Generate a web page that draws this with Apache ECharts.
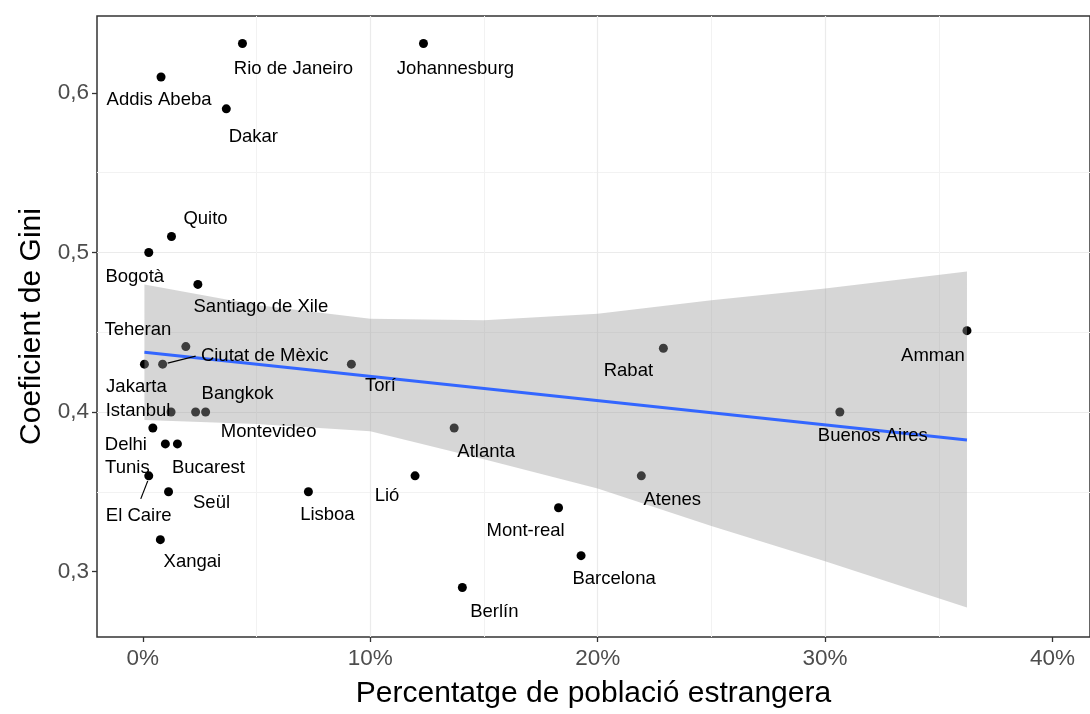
<!DOCTYPE html>
<html>
<head>
<meta charset="utf-8">
<script src="https://cdn.jsdelivr.net/npm/echarts@6/dist/echarts.min.js"></script>
<style>
html,body{margin:0;padding:0;background:#fff;}
#c{width:1090px;height:714px;}
</style>
</head>
<body>
<div id="c"></div>
<script>
// ---- data ----
const cities = ["Rio de Janeiro","Johannesburg","Addis Abeba","Dakar","Quito","Bogotà","Santiago de Xile","Teheran","Jakarta","Ciutat de Mèxic","Istanbul","Bangkok","Montevideo","Delhi","Tunis","Bucarest","El Caire","Seül","Lisboa","Xangai","Torí","Rabat","Atlanta","Lió","Atenes","Mont-real","Barcelona","Berlín","Buenos Aires","Amman"];
const pctForeign = [4.38,12.34,0.80,3.67,1.26,0.26,2.42,1.89,0.07,0.87,1.24,2.32,2.76,0.44,0.99,1.52,0.26,1.13,7.28,0.77,9.17,22.89,13.69,11.97,21.92,18.28,19.27,14.05,30.65,36.24];
const gini = [0.631,0.631,0.610,0.590,0.510,0.500,0.480,0.441,0.430,0.430,0.400,0.400,0.400,0.390,0.380,0.380,0.360,0.350,0.350,0.320,0.430,0.440,0.390,0.360,0.360,0.340,0.310,0.290,0.400,0.451];
// smoother (linear fit) and its confidence band
const fitX = [0.07, 36.24];
const fitY = [0.4375, 0.3825];
const bandX = [0.07, 5, 10, 15, 20, 25, 30, 36.24];
const bandUpper = [0.480, 0.467, 0.4585, 0.4575, 0.4616, 0.470, 0.4774, 0.488];
const bandLower = [0.395, 0.3925, 0.388, 0.3704, 0.352, 0.3285, 0.3065, 0.2775];
const xTicks = [0, 10, 20, 30, 40];
const yTicks = [0.3, 0.4, 0.5, 0.6];

// ---- label layout (pixel offsets of label centre from its point) ----
const labelOffsets = [[51,25],[32,25],[-2,23],[27,28],[34,-18],[-14,24],[63,23],[-48,-17],[-8,23],[102,-8],[-33,-1],[42,-18],[63,20],[-27,17],[-38,24],[31,24],[-10,40],[43,11],[19,23],[32,22],[29,22],[-35,23],[32,24],[-28,20],[31,24],[-33,23],[33,23],[32,24],[33,24],[-34,25]];
const leaders = {"Ciutat de Mèxic":[5,-1,33,-8], "El Caire":[-1,5,-8,23]};

const FONT = "'Liberation Sans', Arial, sans-serif";
const chart = echarts.init(document.getElementById('c'));

const pts = pctForeign.map((x,i)=>[x, gini[i]]);
const fit = fitX.map((x,i)=>[x, fitY[i]]);
const band = bandX.map((x,i)=>[x, bandLower[i], bandUpper[i]]);

chart.setOption({
  animation:false,
  backgroundColor:'#fff',
  grid:{left:97, right:-10, top:16, bottom:76, show:true, borderColor:'#333', borderWidth:1.5, backgroundColor:'transparent'},
  xAxis:{
    type:'value', min:-2.016, max:41.65, minInterval:10, maxInterval:10,
    name:'Percentatge de població estrangera', nameLocation:'middle', nameGap:42,
    nameTextStyle:{fontFamily:FONT, fontSize:30, color:'#000'},
    axisLine:{show:false, onZero:false},
    axisTick:{show:true, length:5, lineStyle:{color:'#333', width:1.3}, customValues:xTicks},
    axisLabel:{fontFamily:FONT, fontSize:22.5, color:'#4d4d4d', margin:10, customValues:xTicks,
      formatter:v=>Math.round(v)+'%'},
    splitLine:{show:true, showMinLine:false, showMaxLine:false, lineStyle:{color:'#ebebeb', width:1.2}},
    minorTick:{show:false, splitNumber:2},
    minorSplitLine:{show:true, lineStyle:{color:'#f2f2f2', width:1}}
  },
  yAxis:{
    type:'value', min:0.259, max:0.6482, minInterval:0.1, maxInterval:0.1,
    name:'Coeficient de Gini', nameLocation:'middle', nameGap:48, nameRotate:90,
    nameTextStyle:{fontFamily:FONT, fontSize:30, color:'#000'},
    axisLine:{show:false, onZero:false},
    axisTick:{show:true, length:5, lineStyle:{color:'#333', width:1.3}, customValues:yTicks},
    axisLabel:{fontFamily:FONT, fontSize:22.5, color:'#4d4d4d', margin:8, customValues:yTicks,
      formatter:v=>v.toFixed(1).replace('.',',')},
    splitLine:{show:true, showMinLine:false, showMaxLine:false, lineStyle:{color:'#ebebeb', width:1.2}},
    minorTick:{show:false, splitNumber:2},
    minorSplitLine:{show:true, lineStyle:{color:'#f2f2f2', width:1}}
  },
  series:[
    {type:'scatter', data:pts, symbol:'circle', symbolSize:9, itemStyle:{color:'#000', opacity:1}, z:2, silent:true},
    {type:'custom', data:band, z:3, silent:true, clip:true,
      renderItem:(params, api)=>{
        if (params.dataIndex !== 0) return null;
        const up = band.map(d=>api.coord([d[0], d[2]]));
        const lo = band.map(d=>api.coord([d[0], d[1]])).reverse();
        return {type:'polygon', shape:{points:up.concat(lo)}, style:{fill:'rgba(153,153,153,0.4)'}};
      }},
    {type:'line', data:fit, showSymbol:false, lineStyle:{color:'#3366FF', width:3}, z:4, silent:true},
    {type:'custom', data:pts, z:5, silent:true, clip:false,
      renderItem:(params, api)=>{
        const i = params.dataIndex;
        const p = api.coord([api.value(0), api.value(1)]);
        const off = labelOffsets[i];
        const children = [{type:'text', x:p[0]+off[0], y:p[1]+off[1],
          style:{text:cities[i], fill:'#000', font:'18.5px '+FONT, align:'center', verticalAlign:'middle'}}];
        const L = leaders[cities[i]];
        if (L) children.unshift({type:'line', shape:{x1:p[0]+L[0], y1:p[1]+L[1], x2:p[0]+L[2], y2:p[1]+L[3]}, style:{stroke:'#000', lineWidth:1.2}});
        return {type:'group', children};
      }}
  ]
});
</script>
</body>
</html>
